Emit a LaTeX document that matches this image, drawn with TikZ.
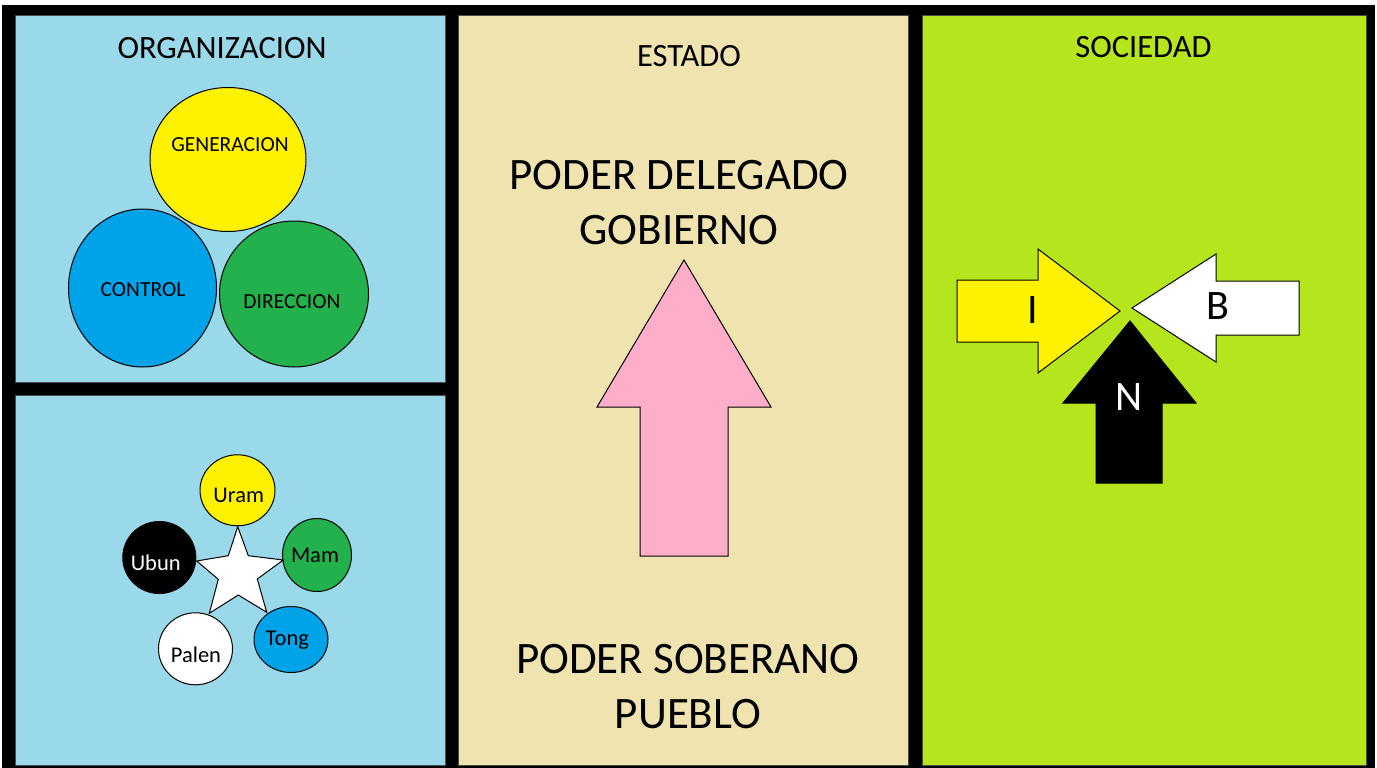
\documentclass[tikz,border=0pt]{standalone}
\usepackage{fontspec}
\setmainfont{Carlito}
\usetikzlibrary{shapes.geometric}

\definecolor{skyblue}{RGB}{153,217,234}
\definecolor{chiffon}{RGB}{239,228,176}
\definecolor{limegreen}{RGB}{181,230,29}
\definecolor{paintyellow}{RGB}{255,242,0}
\definecolor{paintblue}{RGB}{0,162,232}
\definecolor{paintgreen}{RGB}{34,177,76}
\definecolor{paintpink}{RGB}{255,174,201}

\tikzset{
    panel/.style={draw=black!70,line width=0.6pt},
    title/.style={font=\fontsize{32.5}{32.5}\selectfont,inner sep=0pt},
    bigtext/.style={font=\fontsize{45}{55}\selectfont,align=center,inner sep=0pt},
    blob/.style={ellipse,draw=black,line width=1pt,inner sep=0pt},
    blobtext/.style={font=\fontsize{21.5}{21.5}\selectfont,inner sep=0pt},
    smalltext/.style={font=\fontsize{22.5}{22.5}\selectfont,inner sep=0pt},
    arrowshape/.style={draw=black,line width=1pt,line join=miter},
    arrowtext/.style={font=\fontsize{42}{42}\selectfont,inner sep=0pt}
}

\begin{document}
\begin{tikzpicture}[x=1pt,y=-1pt]

% Page and black frame.
\useasboundingbox (0,0) rectangle (1377,768);
\fill[white] (0,0) rectangle (1377,768);
\fill[black] (2,5) rectangle (1375,768);

% The four panels.
\filldraw[panel,fill=skyblue] (15,15) rectangle (445,382);
\filldraw[panel,fill=skyblue] (15,395) rectangle (445,765);
\filldraw[panel,fill=chiffon] (458,15) rectangle (908,765);
\filldraw[panel,fill=limegreen] (922,15) rectangle (1366,765);

% Panel titles.
\node[title] (org) at (222,48) {ORGANIZACION};
\node[title] (estado) at (689,56) {ESTADO};
\node[title] (sociedad) at (1143.5,47) {SOCIEDAD};

% Three big circles.
\node[blob,fill=paintyellow,minimum width=156pt,minimum height=144pt] (gen) at (228,159.5) {};
\node[blob,fill=paintblue,minimum width=148pt,minimum height=158pt] (ctrl) at (142.5,288) {};
\node[blob,fill=paintgreen,minimum width=149pt,minimum height=146pt] (dir) at (294,294) {};
\node[blobtext] (gentext) at (230,145) {GENERACION};
\node[blobtext] (ctrltext) at (143,290) {CONTROL};
\node[blobtext] (dirtext) at (292,302) {DIRECCION};

% Loop for each small circle round the star.
\foreach \n/\x/\y/\w/\h/\c/\tx/\ty/\t/\tc in {
    uram/237.5/490.3/75/71/paintyellow/238.7/495/Uram/black,
    mam/317/555/69/73/paintgreen/315/555/Mam/black,
    tong/291/639.5/74/66/paintblue/287.3/640/Tong/black,
    palen/195.5/648.8/74/72/white/196/655/Palen/black,
    ubun/159.3/557.5/73/72/black/155.7/562.7/Ubun/white} {

    % Draw the circle.
    \node[blob,fill=\c,minimum width=\w pt,minimum height=\h pt] (\n) at (\x,\y) {};

    % Write its name.
    \node[smalltext,text=\tc] (\n text) at (\tx,\ty) {\t};
}

% White star in the middle.
\filldraw[arrowshape,fill=white]
    (237.7,526.7) -- (248.3,555.7) -- (283.3,560) -- (257.3,579)
    -- (266.7,612.3) -- (238.3,595) -- (209.3,613.3) -- (218.3,579.3)
    -- (196.7,561) -- (228.3,555.7) -- cycle;

% Pink arrow, up.
\filldraw[arrowshape,fill=paintpink]
    (684,260) coordinate (pinktip) -- ++(87,147) -- ++(-43,0) -- ++(0,149)
    -- ++(-88,0) -- ++(0,-149) -- ++(-43,0) -- cycle;

% Texts above and below it.
\node[bigtext] (delegado) at (679,202.5) {PODER DELEGADO\\GOBIERNO};
\node[bigtext] (soberano) at (688,686.5) {PODER SOBERANO\\PUEBLO};

% Yellow arrow, right.
\filldraw[arrowshape,fill=paintyellow]
    (957,280) -- (1038,280) -- (1038,249) -- (1120,311) coordinate (itip)
    -- (1038,373) -- (1038,342) -- (957,342) -- cycle;
\node[arrowtext] (itext) at (1033,310) {I};

% White arrow, left.
\filldraw[arrowshape,fill=white]
    (1299,281) -- (1216,281) -- (1216,254) -- (1132,308) coordinate (btip)
    -- (1216,362) -- (1216,335) -- (1299,335) -- cycle;
\node[arrowtext] (btext) at (1218,306) {B};

% Black arrow, up.
\filldraw[arrowshape,fill=black]
    (1130,321) coordinate (ntip) -- (1196,403) -- (1162,403) -- (1162,483)
    -- (1096,483) -- (1096,403) -- (1063,403) -- cycle;
\node[arrowtext,text=white] (ntext) at (1129,397) {N};

\end{tikzpicture}
\end{document}
